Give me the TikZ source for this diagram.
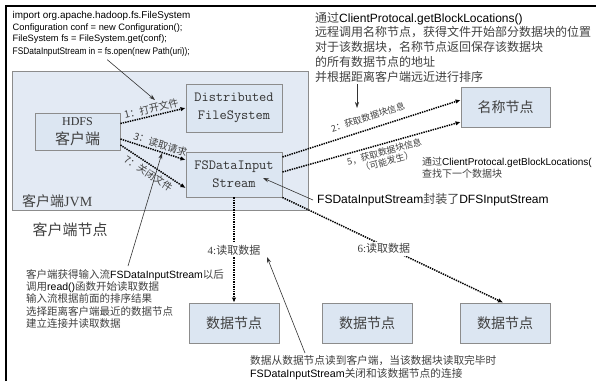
\documentclass[tikz,border=0pt]{standalone}
\usepackage{fontspec}
\usepackage{tikz}
\usetikzlibrary{arrows.meta}
\setmainfont{Liberation Serif}
\newfontfamily\cjk{Noto Sans CJK SC}
\newfontfamily\arial{Liberation Sans}
\newfontfamily\arialcond[FakeStretch=0.87]{Liberation Sans}
\definecolor{boxfill}{HTML}{DCE6F2}
\definecolor{jvmfill}{HTML}{E3EAF4}
\definecolor{boxline}{HTML}{8C8C8C}
\definecolor{zhgray}{HTML}{404040}
\newcommand{\zh}[1]{{\cjk\color{zhgray}#1}}
\newcommand{\fsz}[2]{\fontsize{#1}{#2}\selectfont}

\begin{document}
\begin{tikzpicture}[x=1pt,y=1pt,
  every node/.style={inner sep=0pt},
  box/.style={draw=boxline,fill=boxfill,line width=0.9pt,align=center,text=black!80},
  flow/.style={line width=1.5pt,dash pattern=on 1.4pt off 1pt,-{Latex[length=5pt,width=4.5pt]}},
  flowlbl/.style={font=\fsz{10}{12}},
  note/.style={line width=0.6pt,draw=black!80,-{Stealth[length=6pt,width=4pt]}},
  codeline/.style={anchor=base west,font={\arial\fsz{9.3}{11}}}]
\useasboundingbox (0,0) rectangle (596,-381);
\draw[line width=2pt] (6,-381) -- (6,-6) -- (596,-6);
\node[codeline,font={\arial\fsz{9.9}{12}}] (importline) at (12.5,-18.5) {import org.apache.hadoop.fs.FileSystem};
\node[codeline] (confline) at (12.5,-30.5) {Configuration conf = new Configuration();};
\node[codeline] (fsline) at (12.5,-41) {FileSystem fs = FileSystem.get(conf);};
\node[codeline,font={\arialcond\fsz{9.6}{11}}] (openline) at (12.5,-54.5) {FSDataInputStream in = fs.open(new Path(uri));};
\node[draw=boxline,fill=jvmfill,line width=0.9pt,minimum width=296pt,minimum height=139pt,anchor=north west] (jvm) at (12,-71) {};
\node[anchor=west,font=\fsz{14}{16},text=zhgray] (jvmlbl) at (22,-201) {\zh{客户端}JVM};
\node[font=\fsz{15}{17}] (clienthost) at (70,-230) {\zh{客户端节点}};
\node[box,minimum width=85pt,minimum height=37pt,font=\fsz{12}{19}] (client) at (77.5,-131.5) {HDFS\\{\fsz{15}{19}\zh{客户端}}};
\node[box,minimum width=96pt,minimum height=48pt,font=\ttfamily\fsz{14}{18}] (dfs) at (234,-108) {Distributed\\FileSystem};
\node[box,minimum width=96pt,minimum height=45pt,font=\ttfamily\fsz{14}{18}] (fsin) at (234,-174.5) {FSDataInput\\Stream};
\node[box,minimum width=89pt,minimum height=40pt,font=\fsz{14}{16}] (namenode) at (505.5,-107) {\zh{名称节点}};
\node[box,minimum width=90pt,minimum height=40pt,font=\fsz{14}{16}] (dn1) at (234,-323) {\zh{数据节点}};
\node[box,minimum width=90pt,minimum height=40pt,font=\fsz{14}{16}] (dn2) at (367,-323) {\zh{数据节点}};
\node[box,minimum width=90pt,minimum height=40pt,font=\fsz{14}{16}] (dn3) at (505,-323) {\zh{数据节点}};
\draw[flow] ([yshift=8pt]client.east) -- node[flowlbl,sloped,above=2pt] {\zh{1：打开文件}} (dfs.west);
\draw[flow] ([yshift=-7.5pt]client.east) -- node[flowlbl,sloped,above=2pt,pos=0.58] {\zh{3：读取请求}} ([yshift=14.5pt]fsin.west);
\draw[flow] ([yshift=-13.5pt]client.east) -- node[flowlbl,sloped,below=3pt,pos=0.5] {\zh{7：关闭文件}} ([yshift=-13.5pt]fsin.west);
\draw[flow] ([yshift=17.5pt]fsin.east) -- node[flowlbl,font=\fsz{9}{11},sloped,above=7pt,pos=0.5] {\zh{2：获取数据块信息}} ([yshift=7pt]namenode.west);
\draw[flow] ([yshift=2.5pt]fsin.east) -- node[flowlbl,font=\fsz{9}{10},sloped,below=3pt,pos=0.56,align=center] {\zh{5，获取数据块信息}\\\zh{（可能发生）}} ([yshift=-15pt]namenode.west);
\draw[flow] (fsin.south) -- node[font=\fsz{11}{13},fill=white,inner sep=2pt,text=zhgray] {4:\zh{读取数据}} (dn1.north);
\draw[flow] (fsin.south east) -- node[font=\fsz{11}{13},fill=white,inner sep=2pt,pos=0.46,yshift=-3pt,text=zhgray] {6:\zh{读取数据}} ([xshift=-2pt]dn3.north);
\node[anchor=north west,align=left,font={\arial\fsz{12}{14.7}}] (sortnote) at (315,-12) {\zh{通过}ClientProtocal.getBlockLocations()\\\zh{远程调用名称节点，获得文件开始部分数据块的位置}\\\zh{对于该数据块，名称节点返回保存该数据块}\\\zh{的所有数据节点的地址}\\\zh{并根据距离客户端远近进行排序}};
\node[anchor=north west,align=left,font={\arial\fsz{10}{12}}] (nextnote) at (422,-157) {\zh{通过}ClientProtocal.getBlockLocations(\\\zh{查找下一个数据块}};
\node[anchor=west,font={\arial\fsz{12}{14}}] (wrapnote) at (317,-200) {FSDataInputStream\zh{封装了}DFSInputStream};
\node[anchor=north west,align=left,font={\arial\fsz{10.5}{12.4}}] (readnote) at (26,-269) {\zh{客户端获得输入流}FSDataInputStream\zh{以后}\\\zh{调用}read()\zh{函数开始读取数据}\\\zh{输入流根据前面的排序结果}\\\zh{选择距离客户端最近的数据节点}\\\zh{建立连接并读取数据}};
\node[anchor=north west,align=left,font={\arial\fsz{10.7}{13}}] (closenote) at (250,-355) {\zh{数据从数据节点读到客户端，当该数据块读取完毕时}\\FSDataInputStream\zh{关闭和该数据节点的连接}};
\coordinate (opentip) at (155,-100);
\coordinate (sorttip) at (357,-108);
\coordinate (wraptip) at (263,-178);
\coordinate (readtip) at (162,-153);
\coordinate (closetip) at (267,-257);
\draw[note] ([xshift=6pt,yshift=-3pt]openline.south) -- (opentip);
\draw[note] ([xshift=42pt,yshift=-2pt]sortnote.south west) -- (sorttip);
\draw[note] ([xshift=-4pt]wrapnote.west) -- (wraptip);
\draw[note] ([xshift=102pt,yshift=3pt]readnote.north west) -- (readtip);
\draw[note] ([xshift=55pt,yshift=2pt]closenote.north west) -- (closetip);
\end{tikzpicture}
\end{document}
